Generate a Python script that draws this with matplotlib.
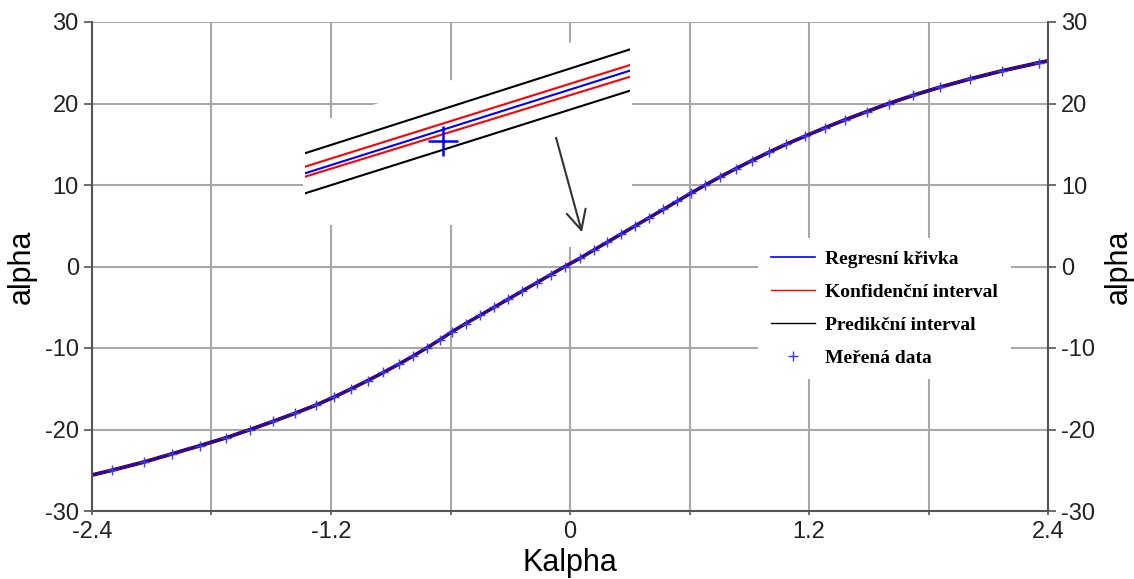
import numpy as np
import matplotlib

matplotlib.use('Agg')

import matplotlib.pyplot as plt
from matplotlib.patches import Polygon

plt.rcParams['axes.unicode_minus'] = False

# measured points: Kalpha vs. alpha (deg)
alpha_meas = [-26, -25, -24, -23, -22, -21, -20, -19, -18, -17, -16, -15, -14, -13,
              -12, -11, -10, -9, -8, -7, -6, -5, -4, -3, -2, -1, 0, 1, 2, 3, 4,
              5, 6, 7, 8, 9, 10, 11, 12, 13, 14, 15, 16, 17, 18, 19, 20, 21, 22,
              23, 24, 25, 26]
kalpha_meas = [-2.47, -2.30, -2.14, -2.00, -1.86, -1.725, -1.605, -1.49, -1.38,
               -1.275, -1.183, -1.098, -1.016, -0.937, -0.861, -0.789, -0.720,
               -0.654, -0.592, -0.524, -0.452, -0.381, -0.310, -0.239, -0.168,
               -0.097, -0.026, 0.049, 0.118, 0.188, 0.258, 0.328, 0.398, 0.468,
               0.538, 0.607, 0.679, 0.754, 0.832, 0.913, 0.997, 1.085, 1.181,
               1.278, 1.381, 1.489, 1.600, 1.723, 1.857, 2.006, 2.168, 2.353, 2.56]

# half widths of the bands (deg)
conf_half = 0.06
pred_half = 0.15

# zoomed detail of the bands around one point (inset units 0..1)
inset_x = [0.0, 1.0]
inset_reg = [0.157, 0.761]
inset_conf_hi = [0.196, 0.794]
inset_conf_lo = [0.137, 0.725]
inset_pred_hi = [0.275, 0.886]
inset_pred_lo = [0.039, 0.643]
inset_pt_x = [0.4255]
inset_pt_y = [0.349]

xticks = [-2.4, -1.8, -1.2, -0.6, 0, 0.6, 1.2, 1.8, 2.4]
xtick_labels = ['-2.4', '', '-1.2', '', '0', '', '1.2', '', '2.4']
yticks = [-30, -20, -10, 0, 10, 20, 30]

W, H = 1134, 579
fig = plt.figure(figsize=(W / 100, H / 100), dpi=100)
ax = fig.add_axes([92 / W, 1 - 511 / H, (1048 - 92) / W, (511 - 22) / H])

x = np.array(kalpha_meas)
y = np.array(alpha_meas, dtype=float)

ax.plot(x, y + pred_half, color='black', lw=1.0, zorder=2)
l_pred, = ax.plot(x, y - pred_half, color='black', lw=1.0, zorder=2)
ax.plot(x, y + conf_half, color='red', lw=1.0, zorder=2.1)
l_conf, = ax.plot(x, y - conf_half, color='red', lw=1.0, zorder=2.1)
l_reg, = ax.plot(x, y, color='blue', lw=1.2, zorder=2.2)
l_data, = ax.plot(x, y, ls='none', marker='+', ms=7, mew=1.0, color='#3a3aff',
                  zorder=3)

ax.set_xlim(-2.4, 2.4)
ax.set_ylim(-30, 30)
ax.set_xticks(xticks)
ax.set_xticklabels(xtick_labels)
ax.set_yticks(yticks)
ax.grid(True, color='#a8a8a8', lw=1.5)
ax.set_axisbelow(True)

ax.spines['top'].set_visible(False)
for s in ['left', 'bottom', 'right']:
    ax.spines[s].set_color('#555555')
    ax.spines[s].set_linewidth(1.5)

ax.tick_params(axis='both', direction='out', color='#555555', width=1.2,
               labelsize=17, labelcolor='#222222')
ax.tick_params(axis='y', length=6, right=True, labelright=True)
ax.tick_params(axis='x', length=3, pad=4)
for lab in ax.get_xticklabels() + ax.get_yticklabels():
    lab.set_family('Liberation Sans')

lab_font = {'family': 'Liberation Sans', 'size': 22}
ax.set_xlabel('Kalpha', fontdict=lab_font, labelpad=4)
ax.set_ylabel('alpha', fontdict=lab_font, labelpad=6)
ax2 = ax.secondary_yaxis('right')
ax2.set_yticks([])
ax2.spines['right'].set_visible(False)
ax2.set_ylabel('alpha', fontdict=lab_font, labelpad=40)

# white backing behind the zoomed detail and the arrow
mask_px = [(303, 127), (632, 23), (632, 190), (600, 190), (600, 247),
           (545, 247), (545, 225), (303, 225)]
mask = Polygon([(px / W, 1 - py / H) for px, py in mask_px], closed=True,
               transform=fig.transFigure, facecolor='white', edgecolor='none',
               zorder=1)
ax.add_patch(mask)

ax.annotate('', xy=(0.06, 4.2), xytext=(-0.07, 15.8),
            arrowprops=dict(arrowstyle='->, head_length=0.7, head_width=0.35',
                            color='#333333', lw=1.5, mutation_scale=20,
                            shrinkA=0, shrinkB=0), zorder=4)

leg = ax.legend([l_reg, l_conf, l_pred, l_data],
                ['Regresní křivka', 'Konfidenční interval', 'Predikční interval',
                 'Meřená data'],
                loc='upper left', bbox_to_anchor=((758 - 92) / 956, (511 - 238) / 489),
                borderaxespad=0, borderpad=0.65, frameon=True, fancybox=False,
                framealpha=1, facecolor='white', edgecolor='none',
                handlelength=2.3, handletextpad=0.5, labelspacing=0.78,
                numpoints=1,
                prop={'family': 'Liberation Serif', 'weight': 'bold', 'size': 14})
leg.set_zorder(5)

# inset with the bands shown close up
axi = fig.add_axes([305 / W, 1 - 200 / H, 325 / W, 170 / H])
axi.set_xlim(0, 1)
axi.set_ylim(0, 1)
axi.axis('off')
axi.patch.set_alpha(0)
axi.plot(inset_x, inset_pred_hi, color='black', lw=1.5)
axi.plot(inset_x, inset_pred_lo, color='black', lw=1.5)
axi.plot(inset_x, inset_conf_hi, color='red', lw=1.5)
axi.plot(inset_x, inset_conf_lo, color='red', lw=1.5)
axi.plot(inset_x, inset_reg, color='blue', lw=1.5)
axi.plot(inset_pt_x, inset_pt_y, ls='none', marker='+', ms=22, mew=1.8, color='blue')

plt.savefig('out.png', format='png')
plt.close(fig)
